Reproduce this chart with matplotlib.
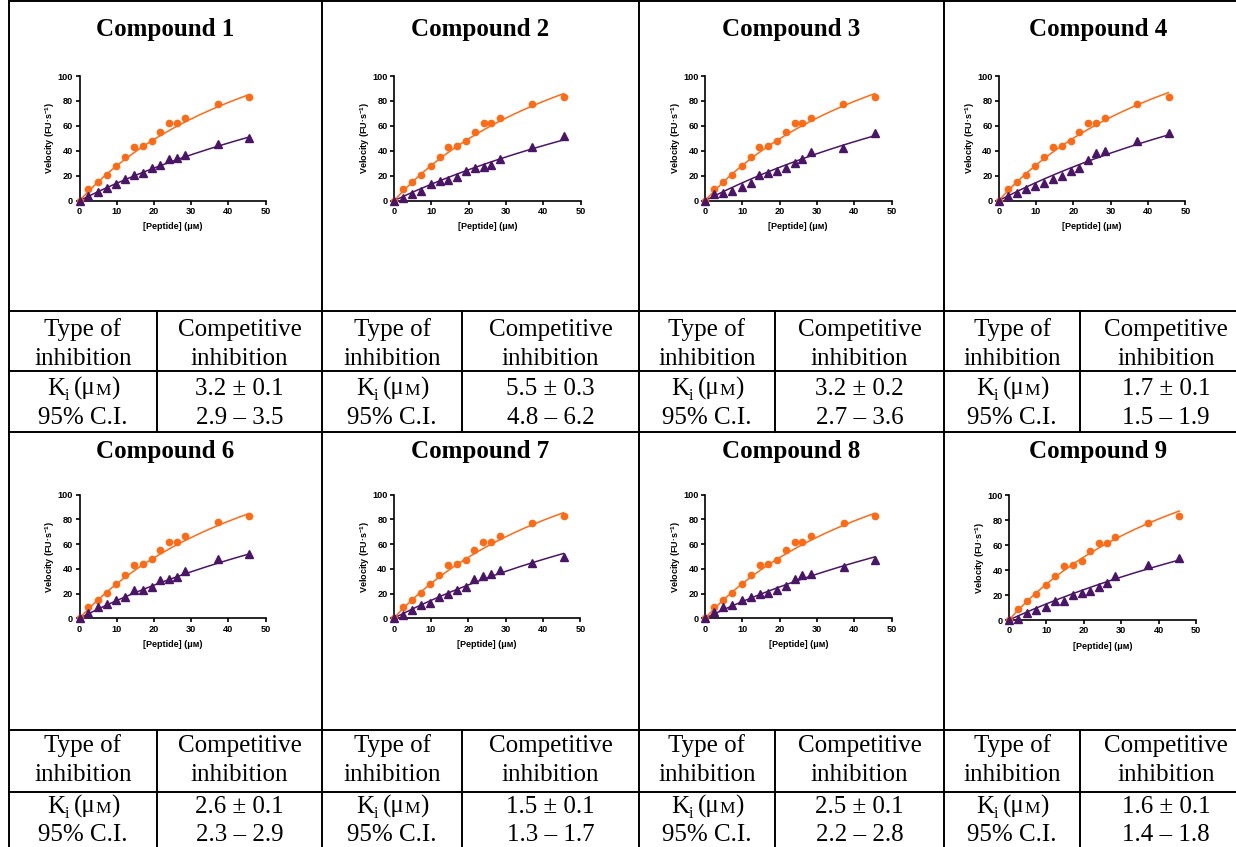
import numpy as np
import matplotlib
matplotlib.use('Agg')
import matplotlib.pyplot as plt

plt.rcParams['mathtext.fontset'] = 'custom'
plt.rcParams['mathtext.rm'] = 'Liberation Sans:bold'
plt.rcParams['mathtext.bf'] = 'Liberation Sans:bold'
plt.rcParams['mathtext.it'] = 'Liberation Sans:bold'

W, H, DPI = 1236, 847, 100

# ---------------- data ----------------
compounds = ['Compound 1', 'Compound 2', 'Compound 3', 'Compound 4',
             'Compound 6', 'Compound 7', 'Compound 8', 'Compound 9']
peptide = [0, 2.4, 4.9, 7.3, 9.8, 12.2, 14.6, 17.0, 19.4, 21.6, 24.0, 26.1, 28.4, 37.1, 45.5]
velocity_control = [0, 9, 15, 20.5, 28, 35, 43, 44, 47.5, 55, 62, 62, 66.5, 77.5, 83]
velocity_inhib_1 = [0, 3.5, 7, 10, 13.5, 17.5, 20.5, 22, 26.5, 29, 33.5, 34, 36.5, 45.5, 50]
velocity_inhib_2 = [0, 2, 5, 7.5, 13.5, 16, 17, 19, 23.5, 26, 27, 29, 33.5, 43, 52]
velocity_inhib_3 = [0, 5, 6.5, 8, 11, 14, 20.5, 22.5, 24, 26.5, 30.5, 33.5, 39, 42.5, 54]
velocity_inhib_4 = [0, 4, 6.5, 9, 12, 14.5, 17.5, 20, 23.5, 26, 33, 38, 39.5, 48, 54.5]
velocity_inhib_6 = [0, 4.5, 9.5, 11.5, 15, 17.5, 23, 23, 25.5, 31, 32, 33, 38, 48, 52]
velocity_inhib_7 = [0, 2.5, 6.5, 10.5, 12.5, 17.5, 19.5, 23, 25.5, 31.5, 34, 35.5, 39, 45, 50]
velocity_inhib_8 = [0, 5.5, 9, 11, 14.5, 17, 20, 20.5, 23, 26.5, 32, 35, 36, 41.5, 47.5]
velocity_inhib_9 = [0, 1, 5.5, 8, 10.5, 15, 15.5, 20, 22, 23.5, 26.5, 29.5, 35, 44, 50]
velocity_inhib = [velocity_inhib_1, velocity_inhib_2, velocity_inhib_3, velocity_inhib_4,
                  velocity_inhib_6, velocity_inhib_7, velocity_inhib_8, velocity_inhib_9]

# fitted Michaelis-Menten parameters (competitive model)
vmax_fit = [199, 201, 201, 203, 198, 200, 199, 204]
km_fit = 61
km_app_fit = [132, 142, 130, 129.5, 128, 128, 136.7, 148]

inhibition_type = ['Competitive', 'inhibition']
ki_values = ['3.2 ± 0.1', '5.5 ± 0.3', '3.2 ± 0.2', '1.7 ± 0.1',
             '2.6 ± 0.1', '1.5 ± 0.1', '2.5 ± 0.1', '1.6 ± 0.1']
ci_values = ['2.9 – 3.5', '4.8 – 6.2', '2.7 – 3.6', '1.5 – 1.9',
             '2.3 – 2.9', '1.3 – 1.7', '2.2 – 2.8', '1.4 – 1.8']
x_ticks = [0, 10, 20, 30, 40, 50]
y_ticks = [0, 20, 40, 60, 80, 100]

# ---------------- layout (pixels) ----------------
col_x = [9, 322, 639, 944, 1252]
inner_x = [157, 462, 775, 1080]
hlines = [1, 311, 371, 432, 730, 792, 852]
halves = [dict(title=36, ttop=311, tmid=371, tbot=432, b=(25, 54, 24, 53)),
          dict(title=458, ttop=730, tmid=792, tbot=852, b=(22, 51, 21, 49))]
axes_px = [(79.5, 265.7, 76, 200.7), (394, 580.5, 76, 200.7),
           (705, 891.5, 76, 200.7), (998.7, 1185.3, 76, 200.7),
           (79.5, 265.7, 494.5, 618.3), (393.7, 580.3, 494.7, 618.3),
           (705, 891.7, 494.7, 618.3), (1009, 1196, 495, 620)]

ORANGE = '#FF6A14'
PURPLE = '#4A1566'
LINE_C = '#000000'

fig = plt.figure(figsize=(W / DPI, H / DPI), dpi=DPI)
fig.patch.set_facecolor('white')
bg = fig.add_axes([0, 0, 1, 1], zorder=0)
bg.set_xlim(0, W)
bg.set_ylim(H, 0)
bg.axis('off')
renderer = fig.canvas.get_renderer()

SERIF = 'Liberation Serif'
TLW = 1.4

# grid lines
for y in hlines:
    bg.plot([col_x[0], col_x[-1]], [y, y], color=LINE_C, lw=TLW, clip_on=False, solid_capstyle='projecting')
for x in col_x:
    bg.plot([x, x], [hlines[0], hlines[-1]], color=LINE_C, lw=TLW, clip_on=False, solid_capstyle='projecting')
for hv in halves:
    for x in inner_x:
        bg.plot([x, x], [hv['ttop'], hv['tbot']], color=LINE_C, lw=TLW, clip_on=False)


def rich(cx, by, parts):
    items = []
    total = 0
    for s, size, dy, gap in parts:
        t = bg.text(0, by + dy, s, fontsize=size, family=SERIF, va='baseline', ha='left')
        w = t.get_window_extent(renderer).width
        items.append((t, w, gap))
        total += w + gap
    x = cx - total / 2
    for t, w, gap in items:
        t.set_x(x)
        x += w + gap


FS = 18
for i, name in enumerate(compounds):
    c = i % 4
    hv = halves[i // 4]
    cx = (col_x[c] + col_x[c + 1]) / 2
    bg.text(cx, hv['title'], name, fontsize=FS, family=SERIF, fontweight='bold',
            ha='center', va='baseline')
    lx = (col_x[c] + inner_x[c]) / 2
    rx = (inner_x[c] + col_x[c + 1]) / 2
    t0 = hv['ttop']
    m0 = hv['tmid']
    b1, b2, b3, b4 = hv['b']
    bg.text(lx, t0 + b1, 'Type of', fontsize=FS, family=SERIF, ha='center', va='baseline')
    bg.text(lx, t0 + b2, 'inhibition', fontsize=FS, family=SERIF, ha='center', va='baseline')
    bg.text(rx, t0 + b1, inhibition_type[0], fontsize=FS, family=SERIF, ha='center', va='baseline')
    bg.text(rx, t0 + b2, inhibition_type[1], fontsize=FS, family=SERIF, ha='center', va='baseline')
    rich(lx, m0 + b3, [('K', FS, 0, 0), ('i', 11.5, 5, 4), ('(μ', FS, 0, 0),
                       ('M', 12.5, 0, 0), (')', FS, 0, 0)])
    bg.text(lx, m0 + b4, '95% C.I.', fontsize=FS, family=SERIF, ha='center', va='baseline')
    bg.text(rx, m0 + b3, ki_values[i], fontsize=FS, family=SERIF, ha='center', va='baseline')
    bg.text(rx, m0 + b4, ci_values[i], fontsize=FS, family=SERIF, ha='center', va='baseline')

# ---------------- plots ----------------
SANS = ['Liberation Sans', 'DejaVu Sans']
for i in range(8):
    x0, x1, yt, yb = axes_px[i]
    ax = fig.add_axes([x0 / W, 1 - yb / H, (x1 - x0) / W, (yb - yt) / H], zorder=2)
    ax.patch.set_alpha(0)
    wpx, hpx = x1 - x0, yb - yt
    xs = np.linspace(0, peptide[-1], 200)
    ax.plot(xs, vmax_fit[i] * xs / (km_fit + xs), color=ORANGE, lw=1.1, zorder=3, clip_on=False)
    ax.plot(xs, vmax_fit[i] * xs / (km_app_fit[i] + xs), color=PURPLE, lw=1.1, zorder=3, clip_on=False)
    ax.plot(peptide, velocity_control, 'o', color=ORANGE, ms=4.5, mec=ORANGE, zorder=4, clip_on=False)
    ax.plot(peptide, velocity_inhib[i], '^', color=PURPLE, ms=5.6, mec=PURPLE, zorder=4, clip_on=False)
    ax.set_xlim(0, 50)
    ax.set_ylim(0, 100)
    ax.set_xticks(x_ticks)
    ax.set_yticks(y_ticks)
    for s in ['top', 'right']:
        ax.spines[s].set_visible(False)
    for s in ['left', 'bottom']:
        ax.spines[s].set_linewidth(1.2)
    ax.tick_params(direction='out', length=3, width=1.2, pad=1.5, labelsize=6.6)
    for lab in ax.get_xticklabels() + ax.get_yticklabels():
        lab.set_family(SANS)
        lab.set_fontweight('bold')
    ax.set_ylabel(r'Velocity (FU·s$^{\mathbf{-1}}$)', fontsize=6.5, fontweight='bold', family=SANS)
    ax.yaxis.label.set_va('center')
    ax.yaxis.set_label_coords(-29 / wpx, 0.5)
    ax.set_xlabel('[Peptide] (μᴍ)', fontsize=6.5, fontweight='bold', family=SANS)
    ax.xaxis.label.set_va('center')
    ax.xaxis.set_label_coords(0.5, -26 / hpx)

fig.savefig('out.png', dpi=DPI, facecolor='white')
